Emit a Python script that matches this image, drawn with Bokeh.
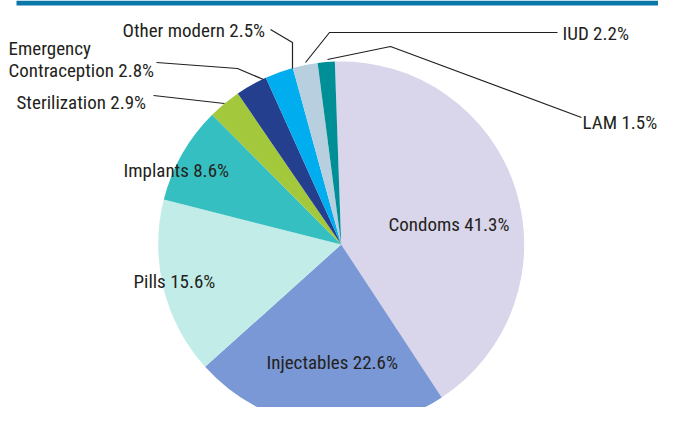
import numpy as np
from bokeh.plotting import figure
from bokeh.models import ColumnDataSource, Range1d
from bokeh.core.properties import value
from bokeh.embed import file_html
from bokeh.resources import INLINE

# ---- data ----
categories = ["Condoms", "Injectables", "Pills", "Implants", "Sterilization",
              "Emergency\nContraception", "Other modern", "IUD", "LAM"]
shares = [41.3, 22.6, 15.6, 8.6, 2.9, 2.8, 2.5, 2.2, 1.5]
colors = ["#d9d5ea", "#7a97d6", "#c2ece7", "#36bfc0", "#a4c83c",
          "#253f8f", "#00adef", "#b8cfe0", "#008e97"]

# ---- layout (picture pixel coordinates, top-left origin) ----
W, H = 658, 407


def X(px):
    return px


def Y(py):
    return H - py


center = (340.7, 244.0)
radius = 183
rot_deg = 2.0

# left x, baseline y of first line for each label
label_pos = {
    "Condoms": (388, 224),
    "Injectables": (266, 362),
    "Pills": (133, 281),
    "Implants": (123, 170),
    "Sterilization": (16, 102),
    "Emergency\nContraception": (8, 47.5),
    "Other modern": (122, 30),
    "IUD": (562, 33),
    "LAM": (582, 122),
}
line_gap = 22.5

leaders = [
    [(270, 29), (292, 42), (292, 68)],          # Other modern
    [(557, 32), (329, 32), (305, 62)],          # IUD
    [(327, 59), (390, 46), (581, 117)],         # LAM
    [(156, 62), (237, 68), (263, 79)],          # Emergency contraception
    [(153, 95), (224, 103)],                    # Sterilization
]

p = figure(width=W, height=H, x_range=Range1d(0, W), y_range=Range1d(0, H),
           output_backend="svg", toolbar_location=None, min_border=0,
           x_axis_type=None, y_axis_type=None, outline_line_color=None,
           background_fill_color="white", border_fill_color="white")
p.grid.visible = False

# top rule
p.quad(left=X(16), right=W, top=H, bottom=H - 5, fill_color="#0a77a9", line_color=None)

# pie
frac = np.array(shares) / np.sum(shares)
cum = np.concatenate([[0.0], np.cumsum(frac)])
off = np.deg2rad(rot_deg)
start = np.pi / 2 + off - 2 * np.pi * cum[:-1]
end = np.pi / 2 + off - 2 * np.pi * cum[1:]
src = ColumnDataSource(dict(start=start, end=end, color=colors, cat=categories, share=shares))
p.wedge(x=X(center[0]), y=Y(center[1]), radius=radius, start_angle="start", end_angle="end",
        direction="clock", fill_color="color", line_color=None, source=src)

# leader lines
p.multi_line(xs=[[X(a) for a, b in seg] for seg in leaders],
             ys=[[Y(b) for a, b in seg] for seg in leaders],
             line_color="#231f20", line_width=1.2)

# labels
tx, ty, tt = [], [], []
for cat, s in zip(categories, shares):
    lines = f"{cat} {s}%".split("\n")
    lx, ly = label_pos[cat]
    for i, ln in enumerate(lines):
        tx.append(X(lx))
        ty.append(Y(ly + i * line_gap))
        tt.append(ln)
p.text(x=tx, y=ty, text=tt, text_font=value("Roboto Condensed, DejaVu Sans Condensed, Roboto"),
       text_font_size="19px", text_color="#231f20", text_align="left", text_baseline="alphabetic")

open("out.html", "w").write(file_html(p, INLINE))
